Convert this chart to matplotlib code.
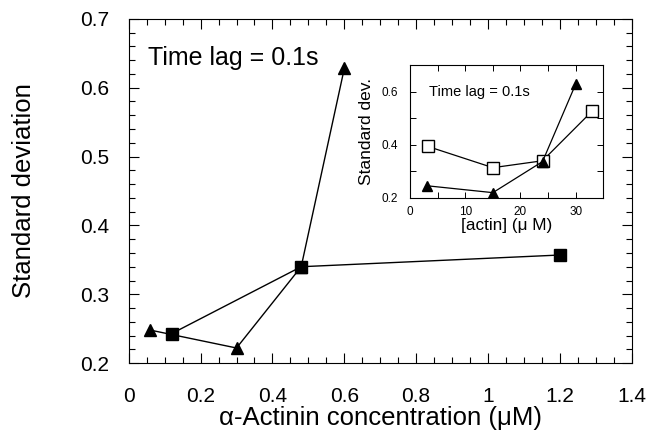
import matplotlib
matplotlib.use('Agg')
import matplotlib.pyplot as plt
from matplotlib.ticker import MultipleLocator

plt.rcParams['font.family'] = ['Liberation Sans', 'DejaVu Sans']

# main panel: alpha-actinin concentration vs standard deviation
tri_x = [0.06, 0.30, 0.48, 0.60]
tri_y = [0.248, 0.222, 0.340, 0.628]
sq_x = [0.12, 0.48, 1.20]
sq_y = [0.243, 0.340, 0.357]

# inset: actin concentration
in_sq_x = [3.2, 15.0, 24.0, 33.0]
in_sq_y = [0.394, 0.314, 0.340, 0.527]
in_tri_x = [3.0, 15.0, 24.0, 30.0]
in_tri_y = [0.246, 0.220, 0.337, 0.628]

fig = plt.figure(figsize=(6.5, 4.37), dpi=100)
ax = fig.add_axes([0.198, 0.169, 0.774, 0.788])

ax.plot(tri_x, tri_y, color='black', lw=1.0, marker='^', ms=9, mfc='black', mec='black')
ax.plot(sq_x, sq_y, color='black', lw=1.0, marker='s', ms=9, mfc='black', mec='black')

ax.set_xlim(0, 1.4)
ax.set_ylim(0.2, 0.7)
ax.xaxis.set_minor_locator(MultipleLocator(0.05))
ax.yaxis.set_major_locator(MultipleLocator(0.1))
ax.yaxis.set_minor_locator(MultipleLocator(0.02))
ax.set_xticks([0, 0.2, 0.4, 0.6, 0.8, 1.0, 1.2, 1.4])
ax.set_xticklabels(['0', '0.2', '0.4', '0.6', '0.8', '1', '1.2', '1.4'])
ax.tick_params(which='both', direction='in', top=True, right=True, width=0.8)
ax.tick_params(which='major', length=7, labelsize=15)
ax.tick_params(axis='x', which='major', pad=17)
ax.tick_params(axis='y', which='major', pad=14)
ax.tick_params(which='minor', length=4)
ax.set_xlabel('α-Actinin concentration (μM)', fontsize=18.5, labelpad=0)
ax.set_ylabel('Standard deviation', fontsize=18.5, labelpad=32)
ax.text(0.038, 0.866, 'Time lag = 0.1s', transform=ax.transAxes, fontsize=18)

# inset
ins = fig.add_axes([0.631, 0.547, 0.297, 0.304])
ins.plot(in_sq_x, in_sq_y, color='black', lw=0.9, marker='s', ms=8, mfc='white', mec='black')
ins.plot(in_tri_x, in_tri_y, color='black', lw=0.9, marker='^', ms=7, mfc='black', mec='black')
ins.set_xlim(0, 35)
ins.set_ylim(0.2, 0.7)
ins.xaxis.set_major_locator(MultipleLocator(10))
ins.xaxis.set_minor_locator(MultipleLocator(5))
ins.yaxis.set_minor_locator(MultipleLocator(0.1))
ins.set_yticks([0.2, 0.4, 0.6])
ins.set_yticklabels(['0.2', '0.4', '0.6'])
ins.tick_params(which='both', direction='in', top=True, right=True, width=0.7, length=4)
ins.tick_params(which='major', labelsize=8.5)
ins.tick_params(axis='x', which='major', pad=6)
ins.tick_params(axis='y', which='major', pad=9)
ins.set_xlabel('[actin] (μ M)', fontsize=12.3, labelpad=0)
ins.set_ylabel('Standard dev.', fontsize=12.5, labelpad=5)
ins.text(0.1, 0.77, 'Time lag = 0.1s', transform=ins.transAxes, fontsize=10.5)

fig.savefig('out.png', dpi=100)
